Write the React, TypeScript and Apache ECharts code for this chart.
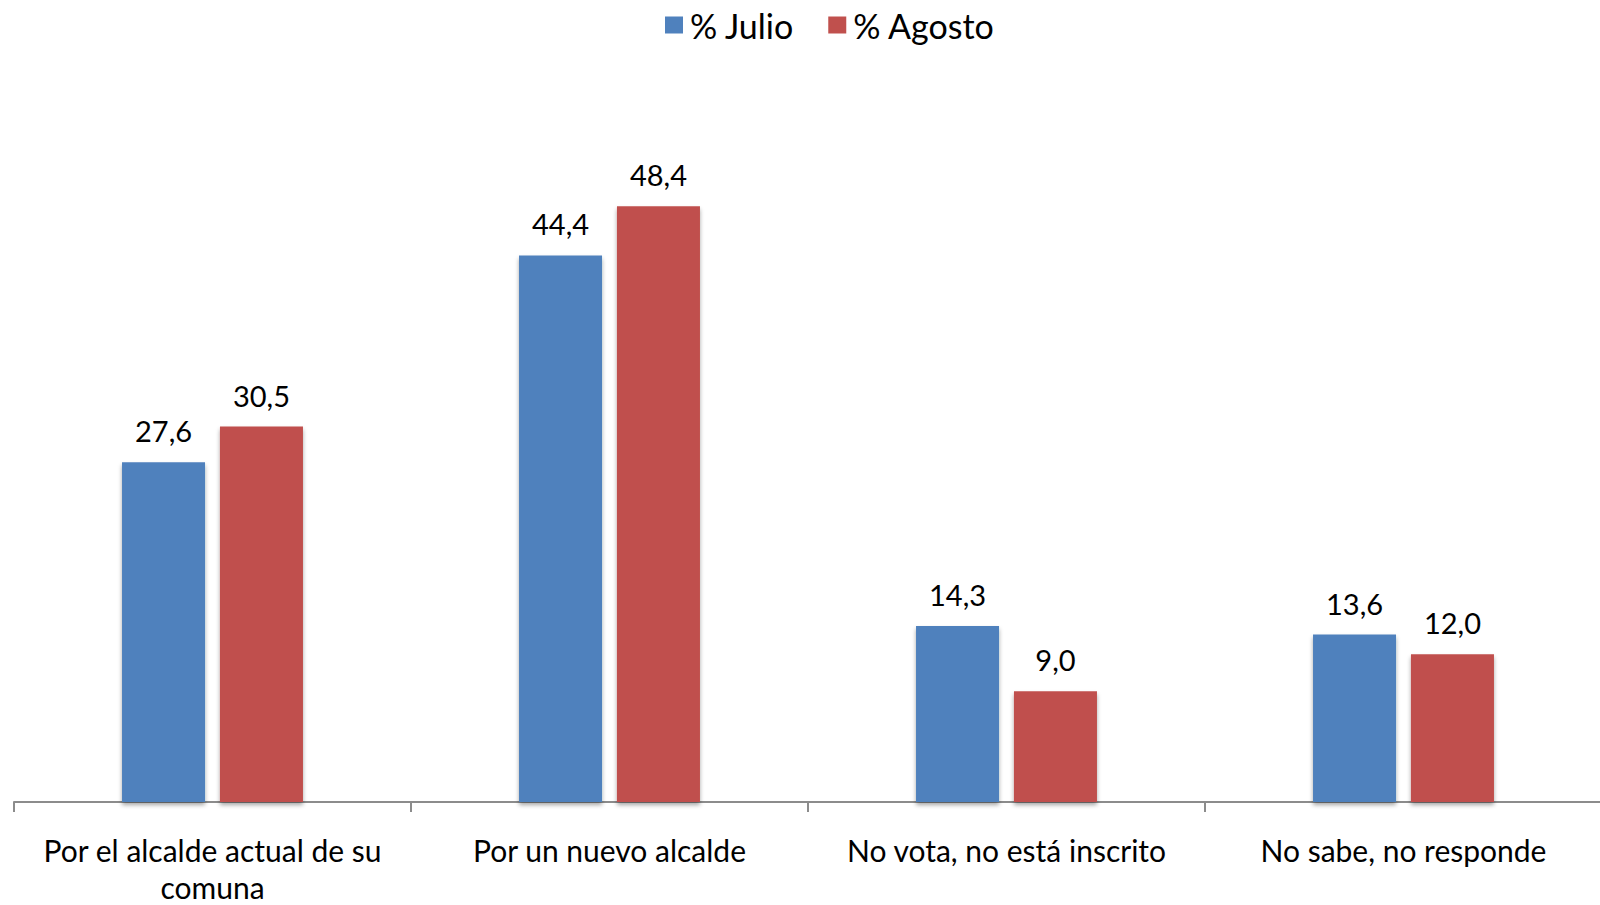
import React, { useEffect, useRef } from "react";
import * as echarts from "echarts";

const categories = [
  "Por el alcalde actual de su\ncomuna",
  "Por un nuevo alcalde",
  "No vota, no está inscrito",
  "No sabe, no responde",
];
const julio = [27.6, 44.4, 14.3, 13.6];
const agosto = [30.5, 48.4, 9.0, 12.0];
const seriesNames = ["% Julio", "% Agosto"];

const FONT = "Lato";

export default function App() {
  const ref = useRef<HTMLDivElement>(null);
  useEffect(() => {
    if (!ref.current) return;
    const chart = echarts.init(ref.current, null, { renderer: "svg" });
    const fmt = (p: any) => Number(p.value).toFixed(1).replace(".", ",");
    const barCommon = {
      type: "bar",
      barWidth: 83,
      barGap: "18%",
      label: {
        show: true,
        position: "top",
        distance: 17,
        formatter: fmt,
        fontFamily: FONT,
        fontSize: 29,
        color: "#000",
      },
    };
    chart.setOption({
      animation: false,
      backgroundColor: "#fff",
      legend: {
        left: 660,
        top: 3,
        itemWidth: 18,
        itemHeight: 17,
        itemGap: 34,
        icon: "rect",
        textStyle: { fontFamily: FONT, fontSize: 34, color: "#000", padding: [0, 0, 0, 2] },
        data: seriesNames,
      },
      grid: {
        left: 14,
        top: 63.4,
        width: 1588,
        height: 738.6,
        containLabel: false,
        outerBoundsMode: "none",
      },
      xAxis: {
        type: "category",
        data: categories,
        axisLine: { lineStyle: { color: "#8c8c8c", width: 2 } },
        axisTick: { show: true, length: 10, lineStyle: { color: "#8c8c8c", width: 2 } },
        axisLabel: {
          interval: 0,
          margin: 29,
          fontFamily: FONT,
          fontSize: 30,
          lineHeight: 37,
          color: "#000",
        },
      },
      yAxis: {
        type: "value",
        min: 0,
        max: 60,
        show: false,
        splitLine: { show: false },
      },
      series: [
        {
          ...barCommon,
          name: seriesNames[0],
          data: julio,
          itemStyle: {
            color: "#4F81BD",
            shadowColor: "rgba(0,0,0,0.35)",
            shadowBlur: 4,
            shadowOffsetY: 3,
          },
        },
        {
          ...barCommon,
          name: seriesNames[1],
          data: agosto,
          itemStyle: {
            color: "#C0504D",
            shadowColor: "rgba(0,0,0,0.35)",
            shadowBlur: 4,
            shadowOffsetY: 3,
          },
        },
      ],
    });
    return () => chart.dispose();
  }, []);
  return (
    <div
      ref={ref}
      style={{ position: "fixed", left: 0, top: 0, width: 1600, height: 905 }}
    />
  );
}
